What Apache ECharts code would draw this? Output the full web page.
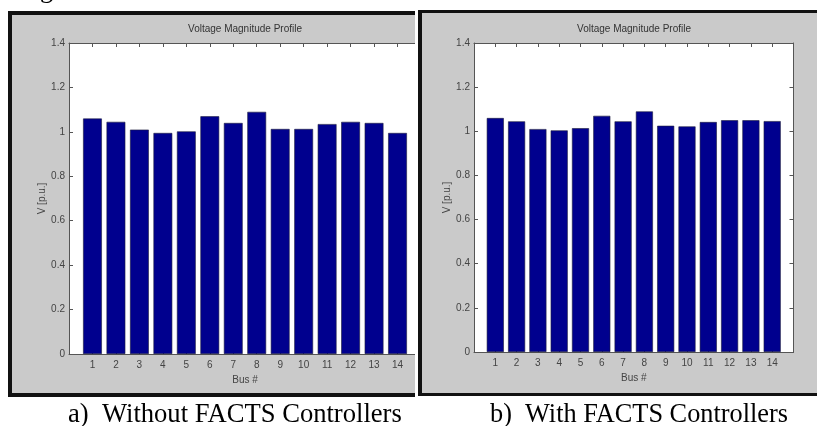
<!DOCTYPE html>
<html>
<head>
<meta charset="utf-8">
<script src="https://cdn.jsdelivr.net/npm/echarts@6/dist/echarts.min.js"></script>
<style>html,body{margin:0;padding:0;background:#fff}#c{width:817px;height:426px}</style>
</head>
<body>
<div id="c"></div>
<script>
// ---- data ----
const buses = [1, 2, 3, 4, 5, 6, 7, 8, 9, 10, 11, 12, 13, 14];
const vWithout = [1.06, 1.045, 1.01, 0.995, 1.002, 1.07, 1.04, 1.09, 1.013, 1.013, 1.035, 1.045, 1.04, 0.995];
const vWith = [1.06, 1.045, 1.01, 1.004, 1.014, 1.07, 1.045, 1.09, 1.025, 1.022, 1.042, 1.05, 1.05, 1.046];
const chartTitle = 'Voltage Magnitude Profile';
const xName = 'Bus #';
const yName = 'V [p.u.]';
const captions = ['a)  Without FACTS Controllers', 'b)  With FACTS Controllers'];

const axisColor = '#555';
const labelColor = '#444';
const sans = 'Liberation Sans';

function axesFor(gi) {
  const line = { show: true, onZero: false, lineStyle: { color: axisColor, width: 1 } };
  const tick = { show: true, inside: true, length: 4, lineStyle: { color: axisColor } };
  const xs = [
    {
      type: 'value', gridIndex: gi, position: 'bottom', min: 0, max: 15, interval: 1,
      axisLine: line, axisTick: tick,
      axisLabel: {
        margin: 6, color: labelColor, fontSize: 10, fontFamily: sans,
        formatter: v => (buses.indexOf(v) >= 0 ? String(v) : '')
      },
      splitLine: { show: false },
      name: xName, nameLocation: 'middle', nameGap: 19,
      nameTextStyle: { color: labelColor, fontSize: 10, fontFamily: sans }
    },
    {
      type: 'value', gridIndex: gi, position: 'top', min: 0, max: 15, interval: 1,
      axisLine: line, axisTick: tick,
      axisLabel: { show: false }, splitLine: { show: false }
    }
  ];
  const ys = [
    {
      type: 'value', gridIndex: gi, position: 'left', min: 0, max: 1.4, interval: 0.2,
      axisLine: line, axisTick: tick,
      axisLabel: { margin: 4, color: labelColor, fontSize: 10, fontFamily: sans },
      splitLine: { show: false },
      name: yName, nameLocation: 'middle', nameGap: 22, nameRotate: 90,
      nameTextStyle: { color: labelColor, fontSize: 10, fontFamily: sans }
    },
    {
      type: 'value', gridIndex: gi, position: 'right', min: 0, max: 1.4, interval: 0.2,
      axisLine: line, axisTick: tick,
      axisLabel: { show: false }, splitLine: { show: false }
    }
  ];
  return { xs, ys };
}

const a0 = axesFor(0), a1 = axesFor(1);

const gridStyle = { show: true, backgroundColor: '#ffffff', borderWidth: 0, containLabel: false };
const grids = [
  Object.assign({ left: 69, top: 43, width: 352, height: 311 }, gridStyle),
  Object.assign({ left: 474, top: 43, width: 319.5, height: 309 }, gridStyle)
];

function barSeries(vals, xi, yi) {
  return {
    type: 'bar', xAxisIndex: xi, yAxisIndex: yi,
    data: buses.map((b, i) => [b, vals[i]]),
    barWidth: '80%',
    itemStyle: { color: '#00008e', borderColor: '#1c1c3c', borderWidth: 0.6 },
    silent: true
  };
}

const bg = -10, fg = 100;
const option = {
  animation: false,
  backgroundColor: '#ffffff',
  grid: grids,
  xAxis: [...a0.xs, ...a1.xs],
  yAxis: [...a0.ys, ...a1.ys],
  series: [barSeries(vWithout, 0, 0), barSeries(vWith, 2, 2)],
  graphic: [
    // left panel frame
    { type: 'rect', z: bg, shape: { x: 8, y: 11, width: 407, height: 386 }, style: { fill: '#111' } },
    { type: 'rect', z: bg, shape: { x: 12, y: 15, width: 403, height: 378 }, style: { fill: '#cacaca' } },
    // right panel frame
    { type: 'rect', z: bg, shape: { x: 418, y: 10, width: 399, height: 386 }, style: { fill: '#111' } },
    { type: 'rect', z: bg, shape: { x: 422, y: 13, width: 395, height: 380 }, style: { fill: '#cacaca' } },
    // overlay: crop of left panel
    { type: 'rect', z: fg, shape: { x: 415, y: 0, width: 3, height: 426 }, style: { fill: '#fff' } },
    { type: 'rect', z: fg, shape: { x: 418, y: 10, width: 4, height: 386 }, style: { fill: '#111' } },
    // titles
    { type: 'text', z: fg, x: 245, y: 29, style: { text: chartTitle, fill: '#333', font: '10px ' + sans, textAlign: 'center', textVerticalAlign: 'middle' } },
    { type: 'text', z: fg, x: 634, y: 29, style: { text: chartTitle, fill: '#333', font: '10px ' + sans, textAlign: 'center', textVerticalAlign: 'middle' } },
    // captions
    { type: 'text', z: fg, x: 68, y: 415, style: { text: captions[0], fill: '#000', font: '26.6px "Liberation Serif"', textAlign: 'left', textVerticalAlign: 'middle' } },
    { type: 'text', z: fg, x: 490, y: 415, style: { text: captions[1], fill: '#000', font: '26.3px "Liberation Serif"', textAlign: 'left', textVerticalAlign: 'middle' } },
    // cropped descender from the line above
    { type: 'text', z: fg, x: 40, y: -9, style: { text: 'g', fill: '#000', font: '26px "Liberation Serif"', textAlign: 'left', textVerticalAlign: 'middle' } }
  ]
};

const chart = echarts.init(document.getElementById('c'), null, { renderer: 'canvas' });
chart.setOption(option);
</script>
</body>
</html>
